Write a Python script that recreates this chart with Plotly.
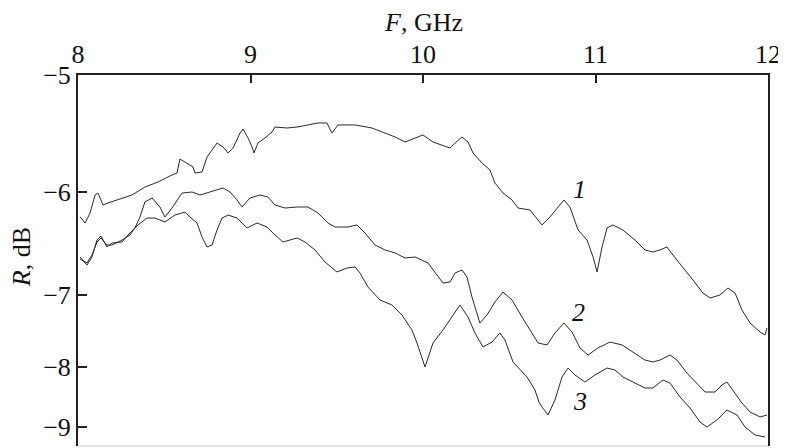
import numpy as np
import plotly.graph_objects as go

# curve 1
freq1 = [8.012, 8.041, 8.070, 8.099, 8.116, 8.145, 8.174, 8.232, 8.313, 8.388, 8.464, 8.545,
         8.574, 8.591, 8.620, 8.667, 8.678, 8.719, 8.748, 8.783, 8.806, 8.841, 8.870, 8.899,
         8.939, 8.957, 8.986, 9.009, 9.020, 9.043, 9.084, 9.125, 9.142, 9.212, 9.270, 9.333,
         9.391, 9.443, 9.472, 9.507, 9.606, 9.704, 9.780, 9.838, 9.896, 9.954, 10.000, 10.058,
         10.157, 10.186, 10.226, 10.261, 10.290, 10.342, 10.388, 10.417, 10.464, 10.516, 10.551,
         10.620, 10.667, 10.690, 10.736, 10.783, 10.817, 10.852, 10.899, 10.951, 10.986, 11.009,
         11.038, 11.067, 11.101, 11.159, 11.229, 11.287, 11.333, 11.374, 11.414, 11.449, 11.507,
         11.565, 11.623, 11.664, 11.722, 11.768, 11.809, 11.849, 11.896, 11.954, 11.983, 11.994]
r1 = [-6.242, -6.303, -6.206, -6.032, -6.013, -6.129, -6.109, -6.080, -6.032, -5.960, -5.917, -5.857,
      -5.840, -5.720, -5.746, -5.788, -5.840, -5.831, -5.703, -5.626, -5.583, -5.617, -5.668, -5.626,
      -5.497, -5.463, -5.540, -5.617, -5.668, -5.583, -5.540, -5.488, -5.446, -5.454, -5.446, -5.428,
      -5.411, -5.411, -5.497, -5.428, -5.428, -5.454, -5.497, -5.531, -5.574, -5.540, -5.514, -5.574,
      -5.626, -5.583, -5.531, -5.574, -5.668, -5.754, -5.814, -5.925, -6.013, -6.080, -6.158,
      -6.177, -6.274, -6.322, -6.245, -6.148, -6.080, -6.148, -6.371, -6.468, -6.632, -6.777,
      -6.535, -6.351, -6.322, -6.371, -6.468, -6.564, -6.584, -6.564, -6.535, -6.613, -6.729,
      -6.855, -6.981, -7.042, -7.000, -6.932, -6.981, -7.209, -7.391, -7.516, -7.558, -7.460]

# curve 2
freq2 = [8.012, 8.052, 8.081, 8.110, 8.133, 8.168, 8.197, 8.255, 8.301, 8.330, 8.359, 8.388,
         8.429, 8.475, 8.504, 8.545, 8.603, 8.661, 8.707, 8.765, 8.841, 8.881, 8.922, 8.951,
         8.997, 9.055, 9.101, 9.142, 9.200, 9.270, 9.333, 9.391, 9.449, 9.490, 9.565, 9.617,
         9.664, 9.722, 9.780, 9.838, 9.896, 9.954, 10.029, 10.081, 10.116, 10.157, 10.186,
         10.226, 10.255, 10.284, 10.330, 10.371, 10.417, 10.464, 10.516, 10.574, 10.632, 10.667,
         10.719, 10.765, 10.817, 10.864, 10.910, 10.957, 11.014, 11.084, 11.154, 11.229, 11.287,
         11.333, 11.374, 11.432, 11.472, 11.530, 11.588, 11.635, 11.693, 11.733, 11.762, 11.797,
         11.849, 11.896, 11.954, 11.994]
r2 = [-6.632, -6.710, -6.632, -6.468, -6.429, -6.535, -6.497, -6.487, -6.400, -6.351, -6.245, -6.100,
      -6.061, -6.148, -6.245, -6.158, -6.013, -6.003, -6.032, -6.003, -5.968, -6.003, -6.080, -6.148,
      -6.061, -6.032, -6.051, -6.129, -6.158, -6.148, -6.148, -6.206, -6.303, -6.342, -6.342, -6.322,
      -6.400, -6.516, -6.564, -6.593, -6.642, -6.632, -6.690, -6.806, -6.884, -6.874, -6.787,
      -6.758, -6.826, -7.028, -7.391, -7.279, -7.098, -6.971, -7.070, -7.307, -7.530, -7.669,
      -7.697, -7.530, -7.391, -7.516, -7.739, -7.837, -7.739, -7.656, -7.697, -7.809, -7.907,
      -7.934, -7.907, -7.837, -7.907, -8.105, -8.272, -8.422, -8.422, -8.305, -8.255, -8.388,
      -8.605, -8.755, -8.838, -8.805]

# curve 3
freq3 = [8.012, 8.052, 8.081, 8.110, 8.133, 8.168, 8.197, 8.255, 8.301, 8.330, 8.348, 8.400,
         8.446, 8.504, 8.562, 8.620, 8.649, 8.690, 8.719, 8.748, 8.777, 8.806, 8.835, 8.870,
         8.922, 8.980, 9.038, 9.096, 9.130, 9.188, 9.270, 9.316, 9.374, 9.432, 9.501, 9.559,
         9.606, 9.635, 9.681, 9.751, 9.820, 9.878, 9.936, 9.965, 10.012, 10.058, 10.116, 10.168,
         10.214, 10.261, 10.301, 10.348, 10.400, 10.446, 10.475, 10.522, 10.603, 10.649, 10.672,
         10.690, 10.725, 10.765, 10.806, 10.841, 10.881, 10.939, 10.997, 11.067, 11.113, 11.159,
         11.229, 11.287, 11.333, 11.391, 11.432, 11.490, 11.548, 11.606, 11.646, 11.704, 11.762,
         11.820, 11.867, 11.925, 11.983]
r3 = [-6.652, -6.690, -6.613, -6.487, -6.448, -6.516, -6.516, -6.468, -6.419, -6.351, -6.322, -6.255,
      -6.255, -6.293, -6.226, -6.197, -6.245, -6.303, -6.439, -6.535, -6.516, -6.371, -6.255, -6.226,
      -6.255, -6.351, -6.303, -6.342, -6.400, -6.487, -6.448, -6.487, -6.564, -6.681, -6.777, -6.739,
      -6.729, -6.787, -6.923, -7.070, -7.139, -7.279, -7.488, -7.669, -8.005, -7.669, -7.488, -7.307,
      -7.139, -7.307, -7.530, -7.725, -7.656, -7.530, -7.628, -7.935, -8.172, -8.388, -8.588,
      -8.672, -8.805, -8.555, -8.172, -8.022, -8.138, -8.255, -8.138, -8.022, -8.055, -8.172,
      -8.272, -8.355, -8.355, -8.222, -8.272, -8.505, -8.688, -8.922, -9.005, -8.888, -8.722,
      -8.805, -9.005, -9.138, -9.172]

x_ticks = [8, 9, 10, 11, 12]
y_ticks = [-9, -8, -7, -6, -5]
y_tick_text = ["\u22129", "\u22128", "\u22127", "\u22126", "\u22125"]

# the R axis of the original is not evenly spaced; map dB onto it piecewise
Y_POS = [-381.7, -351.7, -291.7, -220.0, -116.7, 0.0]


def to_axis(db):
    return np.interp(db, [-9.5] + y_ticks, Y_POS)


serif = "Liberation Serif"
fig = go.Figure()

for f, r in [(freq1, r1), (freq2, r2), (freq3, r3)]:
    fig.add_trace(go.Scatter(x=f, y=to_axis(r), mode="lines",
                             line=dict(color="#2a2a2a", width=1), showlegend=False))

# curve numbers
for txt, fx, db in [("1", 10.91, -5.985), ("2", 10.90, -7.25), ("3", 10.91, -8.58)]:
    fig.add_annotation(x=fx, y=float(to_axis(db)), text="<i>%s</i>" % txt, showarrow=False,
                       font=dict(family=serif, size=26, color="#111"))

fig.add_annotation(xref="paper", yref="paper", x=0.5, y=1.0, yshift=53, xanchor="center",
                   yanchor="middle", text="<i>F</i>, GHz", showarrow=False,
                   font=dict(family=serif, size=26, color="#111"))
fig.add_annotation(xref="paper", yref="paper", x=0, xshift=-57, y=0.509, xanchor="center",
                   yanchor="middle", text="<i>R</i>, dB", textangle=-90, showarrow=False,
                   font=dict(family=serif, size=26, color="#111"))

# faint bottom edge
fig.add_shape(type="line", xref="paper", yref="paper", x0=0, x1=1, y0=0, y1=0,
              line=dict(color="#cccccc", width=1))

fig.update_xaxes(range=[8, 12], side="top", tickvals=x_ticks, ticks="inside", ticklen=8,
                 tickwidth=1.5, tickcolor="#222", showline=True, linewidth=2, linecolor="#222",
                 showgrid=False, zeroline=False,
                 tickfont=dict(family=serif, size=26, color="#111"))
fig.update_yaxes(range=[-371, 0], tickvals=list(to_axis(y_ticks)), ticktext=y_tick_text,
                 ticks="inside", ticklen=9, tickwidth=1.5, tickcolor="#222", showline=True,
                 mirror=True, linewidth=2, linecolor="#222", showgrid=False, zeroline=False,
                 tickfont=dict(family=serif, size=26, color="#111"))

# page body adds an 8px margin, so the figure is 8px smaller each way
fig.update_layout(width=778, height=440, margin=dict(l=70, r=18, t=67, b=2),
                  plot_bgcolor="white", paper_bgcolor="white")

fig.write_html("out.html")
